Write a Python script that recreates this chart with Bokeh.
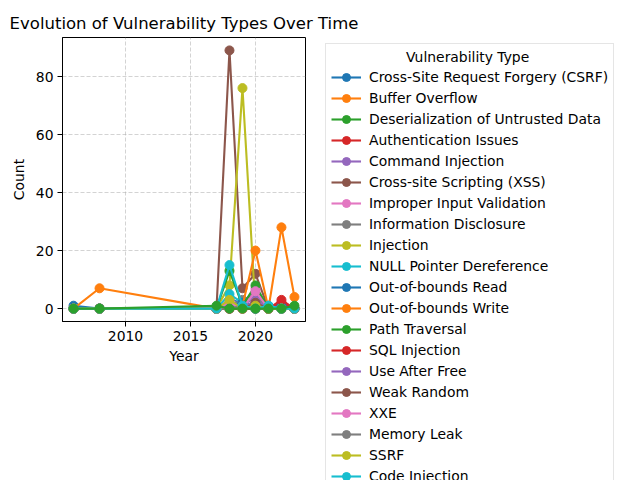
from bokeh.plotting import figure
from bokeh.models import Range1d, Legend, LegendItem, FixedTicker
from bokeh.embed import file_html
from bokeh.resources import INLINE

years = [2006, 2008, 2017, 2018, 2019, 2020, 2021, 2022, 2023]

types = [
    "Cross-Site Request Forgery (CSRF)", "Buffer Overflow", "Deserialization of Untrusted Data",
    "Authentication Issues", "Command Injection", "Cross-site Scripting (XSS)",
    "Improper Input Validation", "Information Disclosure", "Injection",
    "NULL Pointer Dereference", "Out-of-bounds Read", "Out-of-bounds Write",
    "Path Traversal", "SQL Injection", "Use After Free", "Weak Random", "XXE",
    "Memory Leak", "SSRF", "Code Injection",
]

csrf = [1, 0, 0, 3, 2, 0, 0, 0, 0]
buffer_overflow = [0, 7, 0, 1, 0, 2, 0, 0, 0]
deserialization = [0, 0, 1, 0, 0, 0, 0, 0, 1]
auth_issues = [0, 0, 0, 0, 0, 0, 0, 2, 0]
command_injection = [0, 0, 0, 2, 1, 4, 0, 0, 0]
xss = [0, 0, 0, 89, 7, 12, 0, 0, 0]
improper_input = [0, 0, 0, 3, 1, 7, 0, 0, 0]
info_disclosure = [0, 0, 0, 1, 3, 5, 0, 0, 0]
injection = [0, 0, 0, 8, 76, 0, 0, 0, 0]
null_pointer = [0, 0, 0, 5, 2, 0, 1, 0, 0]
oob_read = [0, 0, 0, 1, 2, 1, 0, 1, 0]
oob_write = [0, 0, 0, 0, 1, 20, 0, 28, 4]
path_traversal = [0, 0, 0, 13, 1, 8, 0, 0, 0]
sql_injection = [0, 0, 0, 0, 0, 0, 0, 3, 0]
use_after_free = [0, 0, 0, 1, 0, 3, 0, 0, 0]
weak_random = [0, 0, 0, 0, 0, 2, 0, 0, 0]
xxe = [0, 0, 0, 2, 0, 6, 0, 0, 0]
memory_leak = [0, 0, 0, 0, 1, 0, 0, 0, 0]
ssrf = [0, 0, 0, 3, 0, 1, 0, 0, 0]
code_injection = [0, 0, 0, 15, 1, 0, 1, 0, 0]

series = [csrf, buffer_overflow, deserialization, auth_issues, command_injection, xss,
          improper_input, info_disclosure, injection, null_pointer, oob_read, oob_write,
          path_traversal, sql_injection, use_after_free, weak_random, xxe, memory_leak,
          ssrf, code_injection]

x_ticks = [2010, 2015, 2020]
y_ticks = [0, 20, 40, 60, 80]

tab10 = ["#1f77b4", "#ff7f0e", "#2ca02c", "#d62728", "#9467bd",
         "#8c564b", "#e377c2", "#7f7f7f", "#bcbd22", "#17becf"]

FONT = "DejaVu Sans"

xmin, xmax = min(years), max(years)
ymin = min(min(s) for s in series)
ymax = max(max(s) for s in series)
xpad = (xmax - xmin) * 0.05
ypad = (ymax - ymin) * 0.05

p = figure(frame_width=243, frame_height=284, output_backend="svg", toolbar_location=None,
           x_range=Range1d(xmin - xpad, xmax + xpad),
           y_range=Range1d(ymin - ypad, ymax + ypad),
           min_border_left=62, min_border_top=37, min_border_bottom=159,
           min_border_right=335)

p.title.text = "Evolution of Vulnerability Types Over Time"
p.title.text_font = FONT
p.title.text_font_size = "16.5px"
p.title.text_font_style = "normal"
p.title.align = "center"
p.title.text_color = "black"

p.background_fill_color = "white"
p.border_fill_color = "white"
p.outline_line_color = "black"
p.outline_line_width = 1
p.outline_line_alpha = 1

for ax in (p.xaxis[0], p.yaxis[0]):
    ax.axis_label_text_font = FONT
    ax.axis_label_text_font_size = "13.9px"
    ax.axis_label_text_font_style = "normal"
    ax.axis_label_text_color = "black"
    ax.major_label_text_font = FONT
    ax.major_label_text_font_size = "13.9px"
    ax.major_label_text_color = "black"
    ax.minor_tick_line_color = None
    ax.major_tick_out = 5
    ax.major_tick_in = 0
    ax.major_tick_line_color = "black"
    ax.axis_line_color = "black"

p.xaxis.axis_label = "Year"
p.yaxis.axis_label = "Count"
p.xaxis.ticker = FixedTicker(ticks=x_ticks)
p.yaxis.ticker = FixedTicker(ticks=y_ticks)
p.xaxis.major_label_standoff = 4
p.yaxis.major_label_standoff = 4
p.xaxis.axis_label_standoff = 4
p.yaxis.axis_label_standoff = 6

p.grid.grid_line_color = "#b0b0b0"
p.grid.grid_line_alpha = 0.7
p.grid.grid_line_dash = "4 2"
p.grid.grid_line_width = 0.8

renderers = {}
draw_order = [i for i in range(len(series)) if i != 2] + [2]
for i in draw_order:
    c = tab10[i % 10]
    ln = p.line(years, series[i], line_color=c, line_width=2.1)
    sc = p.scatter(years, series[i], size=9, fill_color=c, line_color=c, marker="circle")
    renderers[i] = [ln, sc]

items = [LegendItem(label=types[i], renderers=renderers[i]) for i in range(len(series))]
legend = Legend(items=items, location=(20, -171),
                title="\u00a0" * 17 + "Vulnerability Type")
legend.title_text_font = FONT
legend.title_text_font_size = "13.9px"
legend.title_text_font_style = "normal"
legend.title_text_color = "black"
legend.title_standoff = 2
legend.label_text_font = FONT
legend.label_text_font_size = "13.9px"
legend.label_text_color = "black"
legend.glyph_width = 30
legend.glyph_height = 20
legend.label_height = 20
legend.spacing = 1
legend.label_standoff = 8
legend.padding = 5
legend.margin = 0
legend.border_line_color = "#cccccc"
legend.border_line_width = 1
legend.background_fill_alpha = 0.8
p.add_layout(legend, "right")

open("out.html", "w").write(file_html(p, INLINE))
